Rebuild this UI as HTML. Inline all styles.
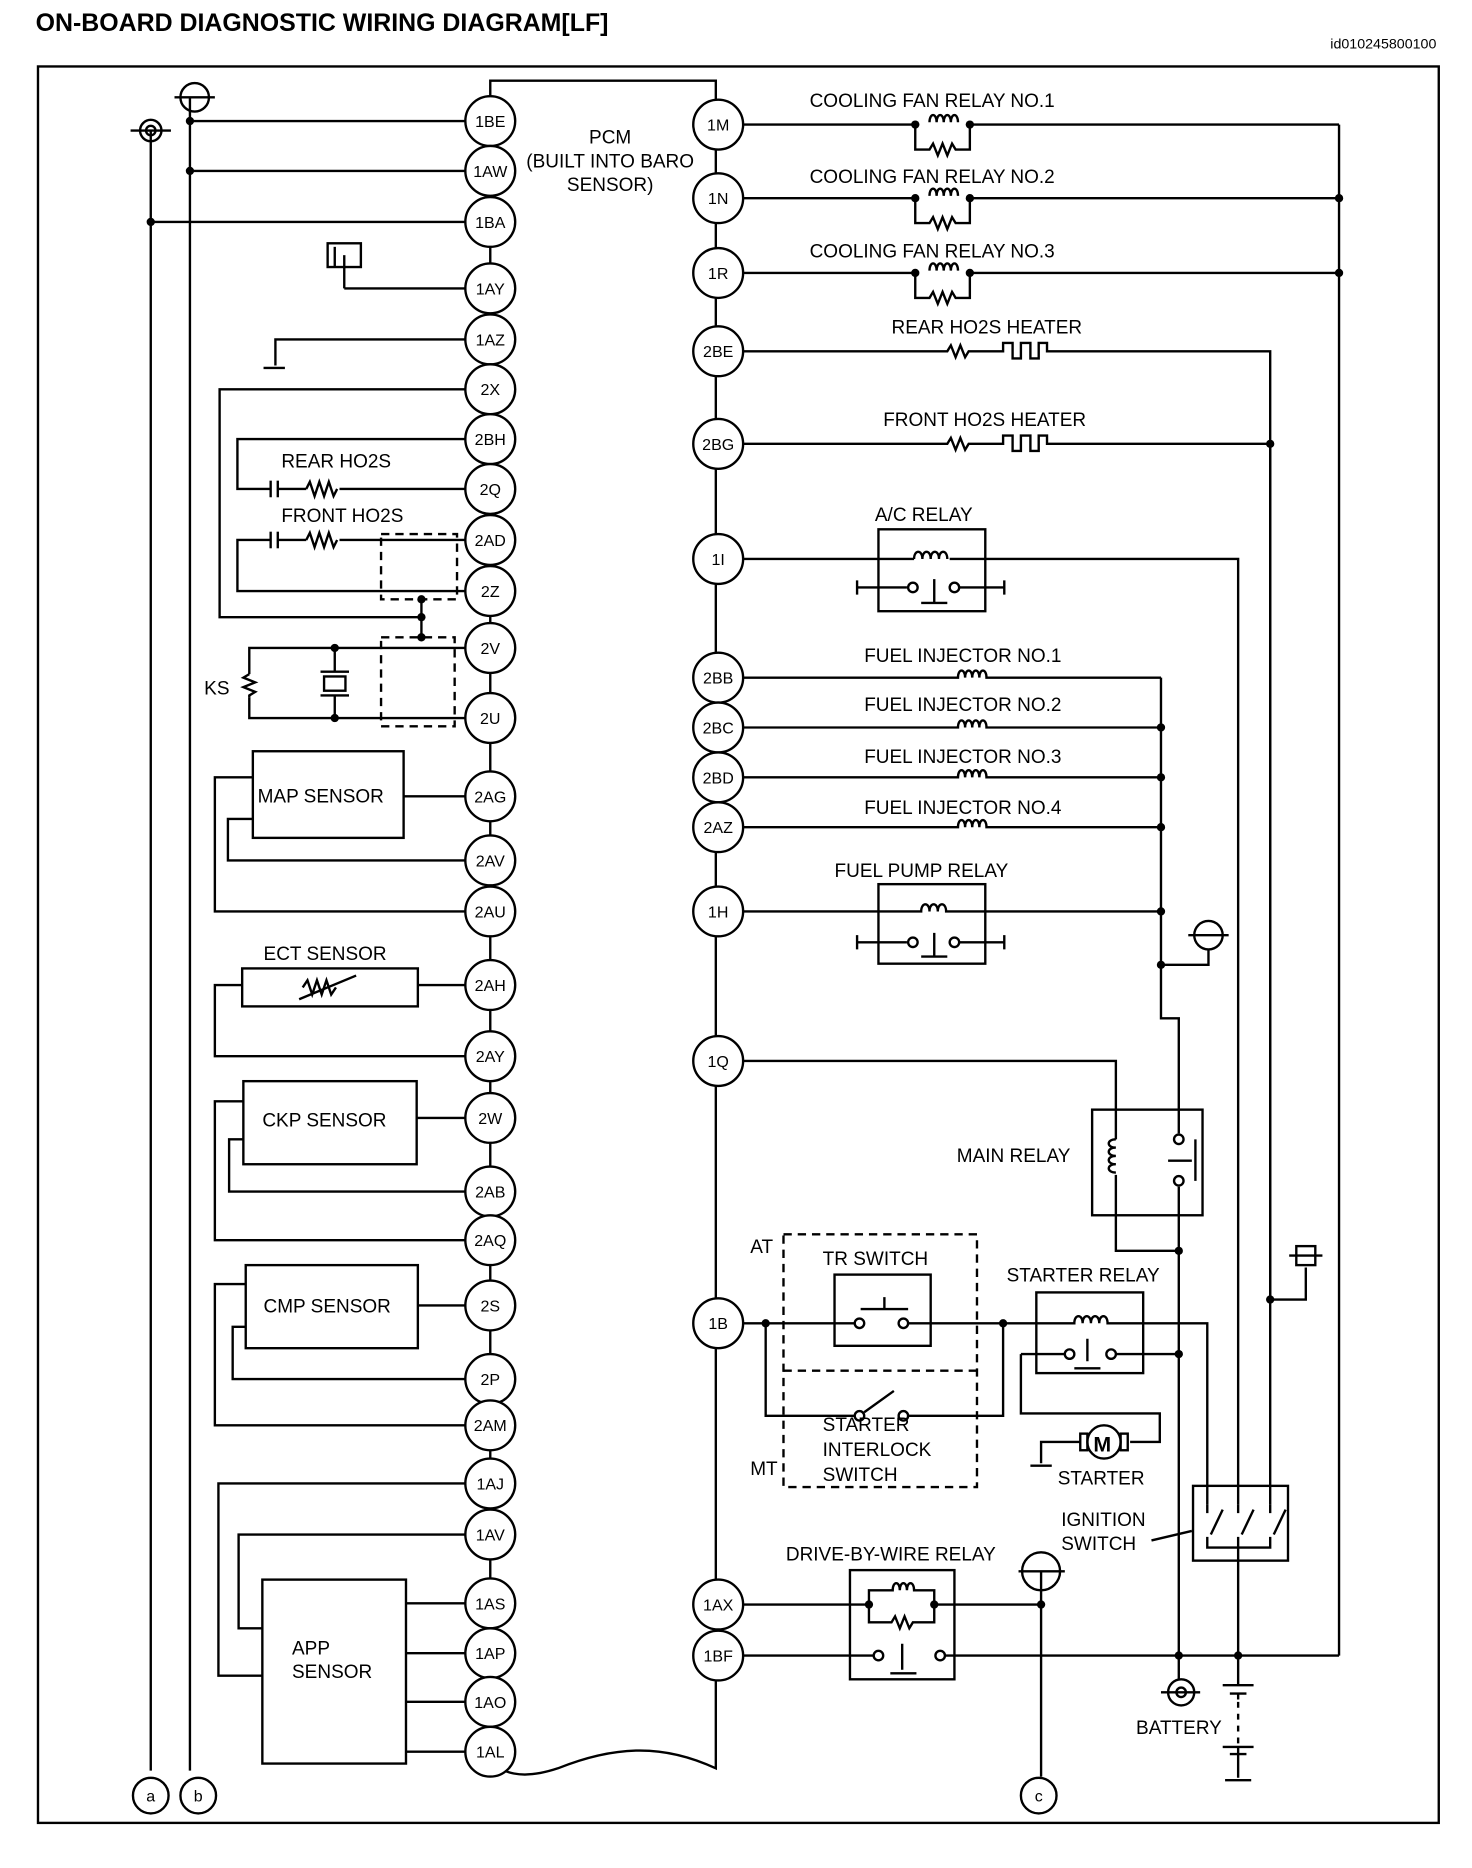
<!DOCTYPE html>
<html><head><meta charset="utf-8"><style>
html,body{margin:0;padding:0;background:#fff}
svg{display:block}
text{font-family:"Liberation Sans",Arial,sans-serif;fill:#000}
.p{font-size:13.5px;text-anchor:middle}
.l{font-size:16px}
</style></head><body>
<svg width="1472" height="1868" viewBox="0 0 1240 1574" preserveAspectRatio="none" xmlns="http://www.w3.org/2000/svg">
<g stroke="#000" stroke-width="2" fill="none">
<rect x="32" y="56" width="1180" height="1480"/>
<!-- PCM body -->
<path d="M413 68 H603 V1490 C560 1470 520 1470 470 1490 C440 1500 420 1495 413 1480 Z"/>
<!-- left a/b -->
<line x1="127" y1="110" x2="127" y2="1492"/>
<circle cx="127" cy="110" r="9"/><circle cx="127" cy="110" r="4"/><line x1="110" y1="110" x2="144" y2="110"/>
<line x1="160" y1="82" x2="160" y2="1492"/>
<circle cx="164" cy="82" r="12"/><line x1="147" y1="82" x2="181" y2="82"/>
<line x1="160" y1="102" x2="392" y2="102"/><line x1="160" y1="144" x2="392" y2="144"/>
<line x1="127" y1="187" x2="392" y2="187"/>
<!-- 1AY -->
<rect x="276" y="205" width="28" height="20"/><line x1="290" y1="215" x2="290" y2="243"/><line x1="282" y1="208" x2="282" y2="225"/><line x1="290" y1="243" x2="392" y2="243"/>
<!-- 1AZ -->
<path d="M232 308 V286 H392"/><line x1="222" y1="310" x2="240" y2="310"/>
<!-- 2X -->
<path d="M392 328 H185 V520 H355"/><line x1="355" y1="505" x2="355" y2="537"/>
<!-- 2BH/2Q -->
<path d="M392 370 H200 V412 H228 M234 412 H258 M286 412 H392"/>
<line x1="228" y1="405" x2="228" y2="419"/><line x1="234" y1="405" x2="234" y2="419"/>
<path d="M258 412 l3 -6 l4 12 l4 -12 l4 12 l4 -12 l4 12 l3 -6"/>
<!-- 2AD/2Z -->
<path d="M392 455 H286 M258 455 H234 M228 455 H200 V498 H392"/>
<line x1="228" y1="448" x2="228" y2="462"/><line x1="234" y1="448" x2="234" y2="462"/>
<path d="M258 455 l3 -6 l4 12 l4 -12 l4 12 l4 -12 l4 12 l3 -6"/>
<rect x="321" y="450" width="64" height="55" stroke-dasharray="7 5"/>
<rect x="321" y="537" width="62" height="75" stroke-dasharray="7 5"/>
<!-- KS -->
<path d="M392 546 H210 V568 M210 588 V605 H392"/>
<path d="M210 568 l-5 3 l10 4 l-10 4 l10 4 l-5 3 V588"/>
<line x1="282" y1="546" x2="282" y2="566"/><line x1="270" y1="566" x2="294" y2="566"/><rect x="273" y="570" width="18" height="12"/><line x1="270" y1="586" x2="294" y2="586"/><line x1="282" y1="586" x2="282" y2="605"/>
<!-- MAP -->
<rect x="213" y="633" width="127" height="73"/>
<line x1="340" y1="671" x2="392" y2="671"/>
<path d="M213 690 H192 V725 H392"/>
<path d="M213 655 H181 V768 H392"/>
<!-- ECT -->
<rect x="204" y="816" width="148" height="32"/>
<path d="M255 832 l4 -6 l4 12 l4 -12 l4 12 l4 -12 l4 12 l4 -6 M252 842 L300 822"/>
<line x1="352" y1="830" x2="392" y2="830"/>
<path d="M204 830 H181 V890 H392"/>
<!-- CKP -->
<rect x="205" y="911" width="146" height="70"/>
<line x1="351" y1="942" x2="392" y2="942"/>
<path d="M205 960 H193 V1004 H392"/>
<path d="M205 928 H181 V1045 H392"/>
<!-- CMP -->
<rect x="207" y="1066" width="145" height="70"/>
<line x1="352" y1="1100" x2="392" y2="1100"/>
<path d="M207 1118 H196 V1162 H392"/>
<path d="M207 1082 H181 V1201 H392"/>
<!-- APP -->
<rect x="221" y="1331" width="121" height="155"/>
<path d="M392 1250 H184 V1412 H221"/>
<path d="M392 1293 H201 V1372 H221"/>
<line x1="342" y1="1351" x2="392" y2="1351"/><line x1="342" y1="1393" x2="392" y2="1393"/><line x1="342" y1="1434" x2="392" y2="1434"/><line x1="342" y1="1476" x2="392" y2="1476"/>
<circle cx="127" cy="1513" r="15"/><circle cx="167" cy="1513" r="15"/>

<!-- RIGHT SIDE -->
<line x1="1128" y1="105" x2="1128" y2="1395"/>
<!-- fan relays -->
<g id="fr">
<path d="M626 105 H771 M817 105 H1128"/>
<path d="M771 105 V126 H783 l3 -5 l4 10 l4 -10 l4 10 l4 -10 l3 5 H817 V105"/>
<path d="M783 103 c0 -8 6 -8 6 0 c0 -8 6 -8 6 0 c0 -8 6 -8 6 0 c0 -8 6 -8 6 0"/>
</g>
<use href="#fr" y="62"/><use href="#fr" y="125"/>
<!-- HO2S heaters -->
<path d="M626 296 H798 l3 -5 l4 10 l4 -10 l4 10 l3 -5 H845 V289 H853 V302 H860 V289 H868 V302 H875 V289 H882 V296 H1070 V1095"/>
<path d="M626 374 H798 l3 -5 l4 10 l4 -10 l4 10 l3 -5 H845 V367 H853 V380 H860 V367 H868 V380 H875 V367 H882 V374 H1070"/>
<path d="M1070 1095 H1100 V1068"/><rect x="1092" y="1050" width="16" height="16"/><line x1="1086" y1="1058" x2="1114" y2="1058"/>
<!-- A/C relay -->
<rect x="740" y="446" width="90" height="69"/>
<path d="M626 471 H770 M800 471 H1043 V1268"/>
<path d="M770 471 c0 -8 7 -8 7 0 c0 -8 7 -8 7 0 c0 -8 7 -8 7 0 c0 -8 7 -8 7 0"/>
<path d="M722 495 H764 M808 495 H846 M722 489 V501 M846 489 V501 M787 508 V488 M776 508 H798"/>
<circle cx="769" cy="495" r="4"/><circle cx="804" cy="495" r="4"/>
<!-- injectors -->
<g id="inj"><path d="M626 571 H807 c0 -8 6 -8 6 0 c0 -8 6 -8 6 0 c0 -8 6 -8 6 0 c0 -8 6 -8 6 0 H978"/></g>
<use href="#inj" y="42"/><use href="#inj" y="84"/><use href="#inj" y="126"/>
<path d="M978 571 V858 H993 V935"/>
<path d="M978 813 H1018 V800"/><circle cx="1018" cy="788" r="12"/><line x1="1001" y1="788" x2="1035" y2="788"/>
<!-- fuel pump relay -->
<rect x="740" y="745" width="90" height="67"/>
<path d="M626 768 H776 c0 -8 7 -8 7 0 c0 -8 7 -8 7 0 c0 -8 7 -8 7 0 H978"/>
<path d="M722 794 H764 M808 794 H846 M722 788 V800 M846 788 V800 M787 806 V786 M776 806 H798"/>
<circle cx="769" cy="794" r="4"/><circle cx="804" cy="794" r="4"/>
<!-- main relay -->
<rect x="920" y="935" width="93" height="89"/>
<path d="M626 894 H940 V960 M940 990 V1054 H993"/>
<path d="M940 960 c-8 0 -8 7 0 7 c-8 0 -8 7 0 7 c-8 0 -8 7 0 7 c-8 0 -8 7 0 7"/>
<path d="M993 935 V955 M993 1000 V1395 M1007 960 V995 M984 978 H1004"/>
<circle cx="993" cy="960" r="4"/><circle cx="993" cy="995" r="4"/>
<!-- TR switch -->
<rect x="660" y="1040" width="163" height="213" stroke-dasharray="7 5"/>
<line x1="660" y1="1155" x2="823" y2="1155" stroke-dasharray="7 5"/>
<rect x="703" y="1074" width="81" height="60"/>
<path d="M626 1115 H720 M764 1115 H873 M745 1093 V1103 M725 1103 H765"/>
<circle cx="724" cy="1115" r="4"/><circle cx="761" cy="1115" r="4"/>
<path d="M645 1115 V1193 H720 M764 1193 H845 V1115 M728 1190 L753 1172"/>
<circle cx="724" cy="1193" r="4"/><circle cx="761" cy="1193" r="4"/>
<!-- starter relay -->
<rect x="873" y="1089" width="90" height="68"/>
<path d="M873 1115 H905 c0 -8 7 -8 7 0 c0 -8 7 -8 7 0 c0 -8 7 -8 7 0 c0 -8 7 -8 7 0 H1017 V1268"/>
<path d="M940 1141 H993 M860 1141 H897 M860 1141 V1191 H977 V1215 H952 M916 1147 V1128 M905 1153 H927"/>
<circle cx="901" cy="1141" r="4"/><circle cx="936" cy="1141" r="4"/>
<circle cx="930" cy="1215" r="14"/><rect x="910" y="1208" width="6" height="14"/><rect x="944" y="1208" width="6" height="14"/>
<path d="M910 1215 H877 V1233 M868 1235 H886"/>
<!-- ignition switch -->
<rect x="1005" y="1252" width="80" height="63"/>
<path d="M1017 1268 V1275 M1043 1268 V1275 M1070 1268 V1275 M1017 1295 V1304 H1070 V1295 M1043 1295 V1395 M1020 1293 L1030 1272 M1046 1293 L1056 1272 M1073 1293 L1083 1272 M970 1298 L1004 1290"/>
<path d="M1070 374 V1268" />
<!-- DBW relay -->
<rect x="716" y="1323" width="88" height="92"/>
<path d="M626 1352 H732 M787 1352 H877 M732 1352 V1367 H751 l3 -5 l4 10 l4 -10 l4 10 l3 -5 H787 V1352 M732 1352 V1340 H752 c0 -8 6 -8 6 0 c0 -8 6 -8 6 0 c0 -8 6 -8 6 0 H787 V1352"/>
<path d="M626 1395 H736 M796 1395 H1128 M760 1407 V1385 M750 1410 H772"/>
<circle cx="740" cy="1395" r="4"/><circle cx="792" cy="1395" r="4"/>
<circle cx="877" cy="1324" r="16"/><line x1="858" y1="1324" x2="897" y2="1324"/><line x1="877" y1="1324" x2="877" y2="1497"/>
<circle cx="875" cy="1513" r="15"/>
<!-- battery -->
<circle cx="995" cy="1426" r="11"/><circle cx="995" cy="1426" r="4"/><line x1="978" y1="1426" x2="1011" y2="1426"/>
<line x1="993" y1="1395" x2="993" y2="1415"/>
<path d="M1043 1395 V1420 M1030 1420 H1056 M1036 1427 H1050 M1043 1427 V1432 M1043 1472 V1478 M1030 1472 H1056 M1036 1478 H1050 M1043 1478 V1498 M1032 1500 H1054"/>
<line x1="1043" y1="1434" x2="1043" y2="1470" stroke-dasharray="5 5"/>
</g>
<!-- dots -->
<g fill="#000">
<circle cx="160" cy="102" r="3.5"/><circle cx="160" cy="144" r="3.5"/><circle cx="127" cy="187" r="3.5"/>
<circle cx="355" cy="505" r="3.5"/><circle cx="355" cy="520" r="3.5"/><circle cx="355" cy="537" r="3.5"/>
<circle cx="282" cy="546" r="3.5"/><circle cx="282" cy="605" r="3.5"/>
<circle cx="771" cy="105" r="3.5"/><circle cx="817" cy="105" r="3.5"/><circle cx="771" cy="167" r="3.5"/><circle cx="817" cy="167" r="3.5"/><circle cx="771" cy="230" r="3.5"/><circle cx="817" cy="230" r="3.5"/>
<circle cx="1128" cy="167" r="3.5"/><circle cx="1128" cy="230" r="3.5"/><circle cx="1070" cy="374" r="3.5"/>
<circle cx="978" cy="613" r="3.5"/><circle cx="978" cy="655" r="3.5"/><circle cx="978" cy="697" r="3.5"/><circle cx="978" cy="768" r="3.5"/><circle cx="978" cy="813" r="3.5"/>
<circle cx="993" cy="1054" r="3.5"/><circle cx="993" cy="1141" r="3.5"/><circle cx="1070" cy="1095" r="3.5"/>
<circle cx="645" cy="1115" r="3.5"/><circle cx="845" cy="1115" r="3.5"/>
<circle cx="732" cy="1352" r="3.5"/><circle cx="787" cy="1352" r="3.5"/><circle cx="877" cy="1352" r="3.5"/>
<circle cx="993" cy="1395" r="3.5"/><circle cx="1043" cy="1395" r="3.5"/>
</g>
<!-- pins -->
<g fill="#fff" stroke="#000" stroke-width="2">
<circle cx="413" cy="102" r="21"/><circle cx="413" cy="144" r="21"/><circle cx="413" cy="187" r="21"/><circle cx="413" cy="243" r="21"/><circle cx="413" cy="286" r="21"/><circle cx="413" cy="328" r="21"/><circle cx="413" cy="370" r="21"/><circle cx="413" cy="412" r="21"/><circle cx="413" cy="455" r="21"/><circle cx="413" cy="498" r="21"/><circle cx="413" cy="546" r="21"/><circle cx="413" cy="605" r="21"/><circle cx="413" cy="671" r="21"/><circle cx="413" cy="725" r="21"/><circle cx="413" cy="768" r="21"/><circle cx="413" cy="830" r="21"/><circle cx="413" cy="890" r="21"/><circle cx="413" cy="942" r="21"/><circle cx="413" cy="1004" r="21"/><circle cx="413" cy="1045" r="21"/><circle cx="413" cy="1100" r="21"/><circle cx="413" cy="1162" r="21"/><circle cx="413" cy="1201" r="21"/><circle cx="413" cy="1250" r="21"/><circle cx="413" cy="1293" r="21"/><circle cx="413" cy="1351" r="21"/><circle cx="413" cy="1393" r="21"/><circle cx="413" cy="1434" r="21"/><circle cx="413" cy="1476" r="21"/>
<circle cx="605" cy="105" r="21"/><circle cx="605" cy="167" r="21"/><circle cx="605" cy="230" r="21"/><circle cx="605" cy="296" r="21"/><circle cx="605" cy="374" r="21"/><circle cx="605" cy="471" r="21"/><circle cx="605" cy="571" r="21"/><circle cx="605" cy="613" r="21"/><circle cx="605" cy="655" r="21"/><circle cx="605" cy="697" r="21"/><circle cx="605" cy="768" r="21"/><circle cx="605" cy="894" r="21"/><circle cx="605" cy="1115" r="21"/><circle cx="605" cy="1352" r="21"/><circle cx="605" cy="1395" r="21"/>
</g>
<g class="p">
<text x="413" y="107">1BE</text><text x="413" y="149">1AW</text><text x="413" y="192">1BA</text><text x="413" y="248">1AY</text><text x="413" y="291">1AZ</text><text x="413" y="333">2X</text><text x="413" y="375">2BH</text><text x="413" y="417">2Q</text><text x="413" y="460">2AD</text><text x="413" y="503">2Z</text><text x="413" y="551">2V</text><text x="413" y="610">2U</text><text x="413" y="676">2AG</text><text x="413" y="730">2AV</text><text x="413" y="773">2AU</text><text x="413" y="835">2AH</text><text x="413" y="895">2AY</text><text x="413" y="947">2W</text><text x="413" y="1009">2AB</text><text x="413" y="1050">2AQ</text><text x="413" y="1105">2S</text><text x="413" y="1167">2P</text><text x="413" y="1206">2AM</text><text x="413" y="1255">1AJ</text><text x="413" y="1298">1AV</text><text x="413" y="1356">1AS</text><text x="413" y="1398">1AP</text><text x="413" y="1439">1AO</text><text x="413" y="1481">1AL</text>
<text x="605" y="110">1M</text><text x="605" y="172">1N</text><text x="605" y="235">1R</text><text x="605" y="301">2BE</text><text x="605" y="379">2BG</text><text x="605" y="476">1I</text><text x="605" y="576">2BB</text><text x="605" y="618">2BC</text><text x="605" y="660">2BD</text><text x="605" y="702">2AZ</text><text x="605" y="773">1H</text><text x="605" y="899">1Q</text><text x="605" y="1120">1B</text><text x="605" y="1357">1AX</text><text x="605" y="1400">1BF</text>
<text x="127" y="1518">a</text><text x="167" y="1518">b</text><text x="875" y="1518">c</text>
</g>
<g class="l">
<text x="30" y="26" style="font-size:21px;font-weight:bold">ON-BOARD DIAGNOSTIC WIRING DIAGRAM[LF]</text>
<text x="1210" y="41" style="font-size:12px" text-anchor="end">id010245800100</text>
<text x="514" y="121" text-anchor="middle">PCM</text>
<text x="514" y="141" text-anchor="middle">(BUILT INTO BARO</text>
<text x="514" y="161" text-anchor="middle">SENSOR)</text>
<text x="237" y="394">REAR HO2S</text>
<text x="237" y="440">FRONT HO2S</text>
<text x="172" y="585">KS</text>
<text x="217" y="676">MAP SENSOR</text>
<text x="222" y="809">ECT SENSOR</text>
<text x="221" y="949">CKP SENSOR</text>
<text x="222" y="1106">CMP SENSOR</text>
<text x="246" y="1394">APP</text>
<text x="246" y="1414">SENSOR</text>
<text x="682" y="90">COOLING FAN RELAY NO.1</text>
<text x="682" y="154">COOLING FAN RELAY NO.2</text>
<text x="682" y="217">COOLING FAN RELAY NO.3</text>
<text x="751" y="281">REAR HO2S HEATER</text>
<text x="744" y="359">FRONT HO2S HEATER</text>
<text x="737" y="439">A/C RELAY</text>
<text x="728" y="558">FUEL INJECTOR NO.1</text>
<text x="728" y="599">FUEL INJECTOR NO.2</text>
<text x="728" y="643">FUEL INJECTOR NO.3</text>
<text x="728" y="686">FUEL INJECTOR NO.4</text>
<text x="703" y="739">FUEL PUMP RELAY</text>
<text x="806" y="979">MAIN RELAY</text>
<text x="632" y="1056">AT</text>
<text x="693" y="1066">TR SWITCH</text>
<text x="848" y="1080">STARTER RELAY</text>
<text x="693" y="1206">STARTER</text>
<text x="693" y="1227">INTERLOCK</text>
<text x="693" y="1248">SWITCH</text>
<text x="632" y="1243">MT</text>
<text x="891" y="1251">STARTER</text>
<text x="894" y="1286">IGNITION</text>
<text x="894" y="1306">SWITCH</text>
<text x="662" y="1315">DRIVE-BY-WIRE RELAY</text>
<text x="957" y="1461">BATTERY</text>
<text x="921" y="1223" style="font-size:18px;font-weight:bold">M</text>
</g>
</svg>
</body></html>
